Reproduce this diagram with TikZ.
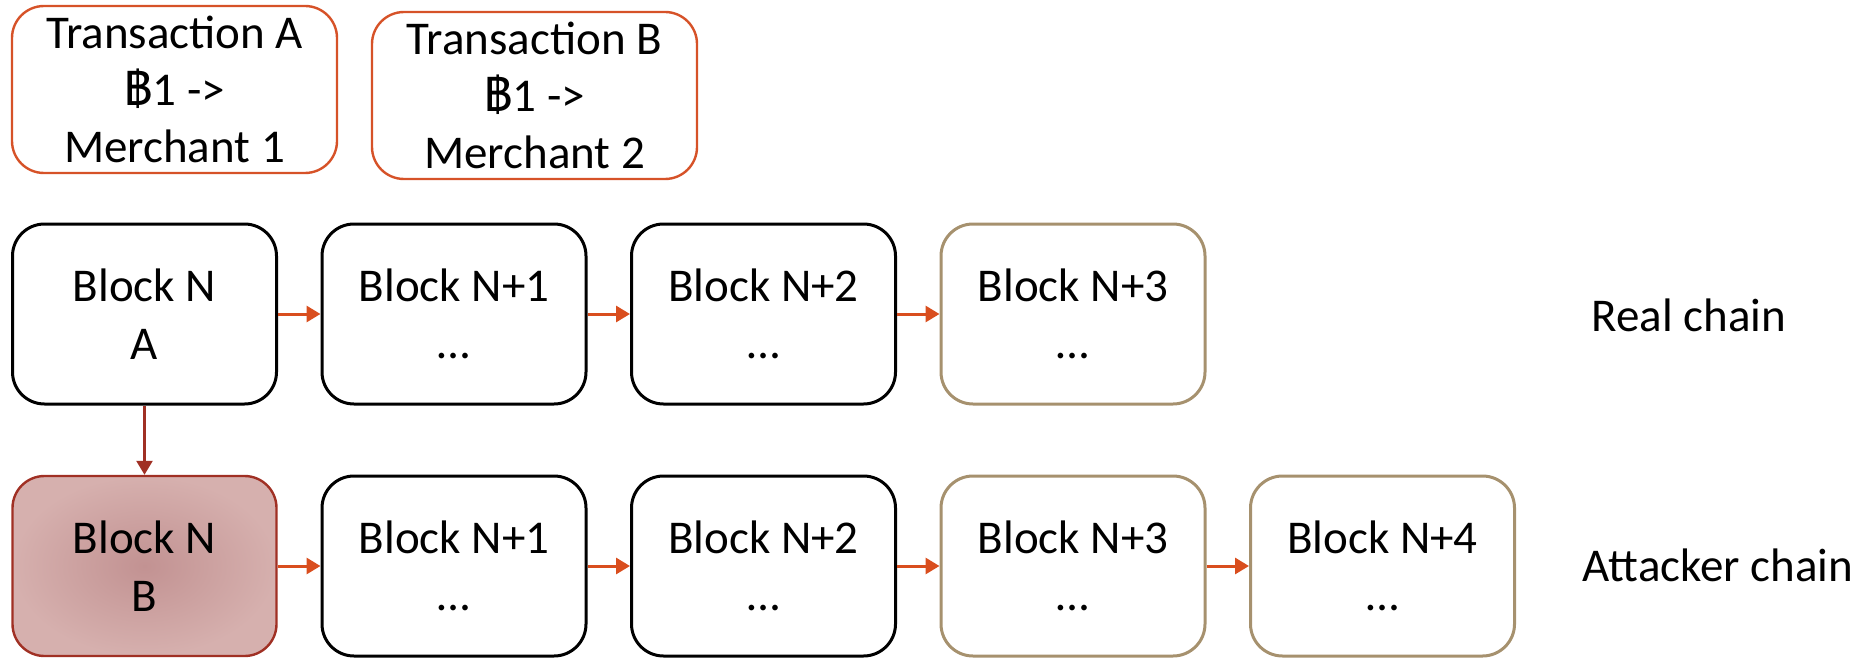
\documentclass[tikz,border=0pt]{standalone}
\usepackage{fontspec}
\setmainfont{Carlito}
\newfontfamily\bahtfont[Script=Thai]{Loma}
\usetikzlibrary{arrows.meta}
\definecolor{txorange}{RGB}{214,82,40}
\definecolor{arrorange}{RGB}{217,78,30}
\definecolor{darkred}{RGB}{160,48,36}
\definecolor{tanc}{RGB}{166,145,110}
\definecolor{pinkin}{RGB}{194,146,146}
\definecolor{pinkout}{RGB}{214,176,174}
\tikzset{
  base/.style={rectangle, rounded corners=16pt, align=center, inner sep=0pt,
    font=\fontsize{23.5}{28.7}\selectfont},
  txbox/.style={base, draw=txorange, line width=1.2pt, minimum width=162.5pt, minimum height=83.5pt},
  blockbox/.style={base, draw=black, line width=1.5pt, minimum width=132pt, minimum height=90pt},
  tanbox/.style={blockbox, draw=tanc},
  forkbox/.style={blockbox, draw=darkred, line width=1.2pt, shading=radial, inner color=pinkin, outer color=pinkout},
  link/.style={draw=arrorange, line width=1.5pt, -{Triangle[length=7pt,width=8pt]}},
  forklink/.style={draw=darkred, line width=1.2pt, -{Triangle[length=7pt,width=8pt]}},
  label/.style={font=\fontsize{23.5}{28.7}\selectfont, inner sep=0pt}
}
\begin{document}
\begin{tikzpicture}[x=0.5pt,y=-0.5pt]
\useasboundingbox (0,0) rectangle (1866,658);
% transactions
\node[txbox] (ta) at (174.5,89.5) {Transaction A\\{\bahtfont ฿}1 ->\\Merchant 1};
\node[txbox] (tb) at (534.5,95.5) {Transaction B\\{\bahtfont ฿}1 ->\\Merchant 2};
% real chain
\node[blockbox] (r0) at (144.5,314) {Block N\\A};
\node[blockbox] (r1) at (454,314) {Block N+1\\…};
\node[blockbox] (r2) at (763.5,314) {Block N+2\\…};
\node[tanbox]   (r3) at (1073,314) {Block N+3\\…};
% attacker chain
\node[forkbox]  (a0) at (144.5,566) {Block N\\B};
\node[blockbox] (a1) at (454,566) {Block N+1\\…};
\node[blockbox] (a2) at (763.5,566) {Block N+2\\…};
\node[tanbox]   (a3) at (1073,566) {Block N+3\\…};
\node[tanbox]   (a4) at (1382.5,566) {Block N+4\\…};
% labels
\node[label] (lr) at (1689,315) {Real chain};
\node[label] (la) at (1718,565) {Attacker chain};
% connectors
\draw[link] (r0) -- (r1);
\draw[link] (r1) -- (r2);
\draw[link] (r2) -- (r3);
\draw[link] (a0) -- (a1);
\draw[link] (a1) -- (a2);
\draw[link] (a2) -- (a3);
\draw[link] (a3) -- (a4);
\draw[forklink] (r0) -- (a0);
\end{tikzpicture}
\end{document}
